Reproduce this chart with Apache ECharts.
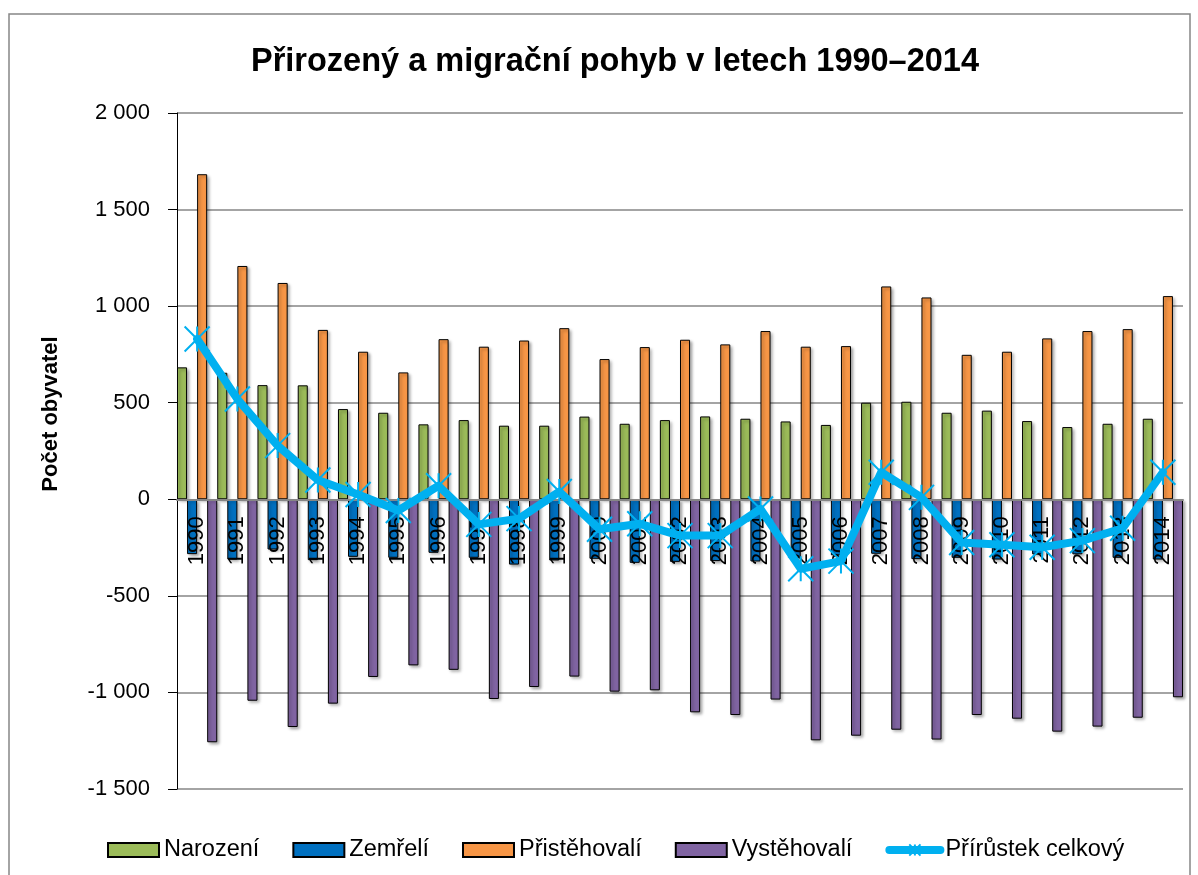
<!DOCTYPE html>
<html>
<head>
<meta charset="utf-8">
<script src="https://cdn.jsdelivr.net/npm/echarts@6/dist/echarts.min.js"></script>
<style>
  html, body { margin: 0; padding: 0; background: #fff; }
  #chart { width: 1198px; height: 875px; }
</style>
</head>
<body>
<div id="chart"></div>
<script>
// data
const years = ['1990', '1991', '1992', '1993', '1994', '1995', '1996', '1997', '1998', '1999',
  '2000', '2001', '2002', '2003', '2004', '2005', '2006', '2007', '2008', '2009',
  '2010', '2011', '2012', '2013', '2014'];
const narozeni = [683, 655, 591, 590, 467, 448, 388, 410, 381, 381, 428, 391, 410, 429, 417, 403, 385, 500, 505, 448, 459, 405, 374, 391, 417];
const zemreli = [-284, -312, -260, -315, -298, -303, -277, -303, -338, -317, -308, -329, -324, -320, -322, -305, -290, -282, -310, -303, -312, -285, -285, -303, -312];
const pristehovali = [1683, 1208, 1120, 877, 764, 657, 829, 790, 822, 886, 726, 788, 826, 802, 871, 790, 793, 1102, 1045, 748, 764, 833, 871, 881, 1052];
const vystehovali = [-1258, -1043, -1179, -1058, -920, -860, -883, -1034, -972, -918, -996, -989, -1103, -1117, -1037, -1248, -1224, -1193, -1244, -1117, -1136, -1203, -1177, -1131, -1025];
const prirustek = [830, 519, 278, 100, 25, -58, 70, -130, -100, 40, -155, -127, -188, -188, -50, -360, -320, 140, 10, -224, -235, -248, -214, -150, 140];

const Y_MIN = -1500;
const Y_MAX = 2000;
const Y_STEP = 500;

const FONT = 'Liberation Sans, Arial, sans-serif';

// Excel-like "star" marker: X with vertical stroke
const STAR = 'path://M0 0 L20 20 M20 0 L0 20 M10 0 L10 20';

const GRID = { left: 177, right: 15, top: 113, bottom: 86 };
const plotHeight = 875 - GRID.top - GRID.bottom;
// category axis sits on the zero line like in Excel
const zeroOffset = -plotHeight * (0 - Y_MIN) / (Y_MAX - Y_MIN);

function fmt(v) {
  const s = String(Math.abs(v)).replace(/\B(?=(\d{3})+(?!\d))/g, ' ');
  return (v < 0 ? '-' : '') + s;
}

const barBase = {
  type: 'bar',
  barGap: '0%',
  barCategoryGap: '0%',
  itemStyle: {
    borderColor: '#000',
    borderWidth: 1,
    shadowColor: 'rgba(0,0,0,0.35)',
    shadowBlur: 3,
    shadowOffsetX: 2,
    shadowOffsetY: 2
  }
};

const chart = echarts.init(document.getElementById('chart'), null, { renderer: 'canvas' });

const option = {
  animation: false,
  backgroundColor: '#fff',
  title: {
    text: 'Přirozený a migrační pohyb v letech 1990–2014',
    left: 610,
    textAlign: 'center',
    top: 41,
    textStyle: { fontFamily: FONT, fontSize: 32.5, fontWeight: 'bold', color: '#000' }
  },
  graphic: [
    {
      type: 'rect',
      shape: { x: 9, y: 14, width: 1181, height: 870 },
      style: { fill: 'none', stroke: '#868686', lineWidth: 1.5 },
      silent: true
    },
    {
      type: 'text',
      x: 51,
      y: 414,
      rotation: Math.PI / 2,
      style: {
        text: 'Počet obyvatel',
        font: 'bold 22px ' + FONT,
        fill: '#000',
        align: 'center',
        verticalAlign: 'middle'
      }
    }
  ],
  legend: {
    left: 102,
    top: 833,
    itemWidth: 51,
    itemHeight: 14,
    itemGap: 33,
    textStyle: { fontFamily: FONT, fontSize: 23.5, color: '#000' },
    data: [
      { name: 'Narození', icon: 'rect' },
      { name: 'Zemřelí', icon: 'rect' },
      { name: 'Přistěhovalí', icon: 'rect' },
      { name: 'Vystěhovalí', icon: 'rect' },
      { name: 'Přírůstek celkový', lineStyle: { width: 8, cap: 'round' } }
    ]
  },
  grid: GRID,
  xAxis: {
    type: 'category',
    data: years,
    z: 3,
    offset: zeroOffset,
    axisLine: { onZero: false, lineStyle: { color: '#868686', width: 2 } },
    axisTick: { show: false },
    axisLabel: {
      rotate: 90,
      margin: 17,
      interval: 0,
      fontFamily: FONT,
      fontSize: 22,
      color: '#000'
    },
    splitLine: { show: false }
  },
  yAxis: {
    type: 'value',
    min: Y_MIN,
    max: Y_MAX,
    interval: Y_STEP,
    axisLine: { show: true, lineStyle: { color: '#000', width: 1 } },
    axisTick: { show: true, inside: false, length: 9, lineStyle: { color: '#000' } },
    axisLabel: {
      margin: 27,
      fontFamily: FONT,
      fontSize: 22,
      color: '#000',
      formatter: fmt
    },
    splitLine: { show: true, lineStyle: { color: '#868686', width: 1.5 } }
  },
  series: [
    Object.assign({}, barBase, {
      name: 'Narození', data: narozeni,
      itemStyle: Object.assign({}, barBase.itemStyle, { color: '#9BBB59' })
    }),
    Object.assign({}, barBase, {
      name: 'Zemřelí', data: zemreli,
      itemStyle: Object.assign({}, barBase.itemStyle, { color: '#0070C0' })
    }),
    Object.assign({}, barBase, {
      name: 'Přistěhovalí', data: pristehovali,
      itemStyle: Object.assign({}, barBase.itemStyle, { color: '#F79646' })
    }),
    Object.assign({}, barBase, {
      name: 'Vystěhovalí', data: vystehovali,
      itemStyle: Object.assign({}, barBase.itemStyle, { color: '#8064A2' })
    }),
    {
      name: 'Přírůstek celkový',
      type: 'line',
      data: prirustek,
      z: 5,
      symbol: STAR,
      symbolSize: 25,
      showAllSymbol: true,
      lineStyle: { color: '#00B0F0', width: 8, cap: 'round', join: 'round' },
      itemStyle: { color: 'rgba(0,0,0,0)', borderColor: '#00B0F0', borderWidth: 2 }
    }
  ]
};

chart.setOption(option);
</script>
</body>
</html>
